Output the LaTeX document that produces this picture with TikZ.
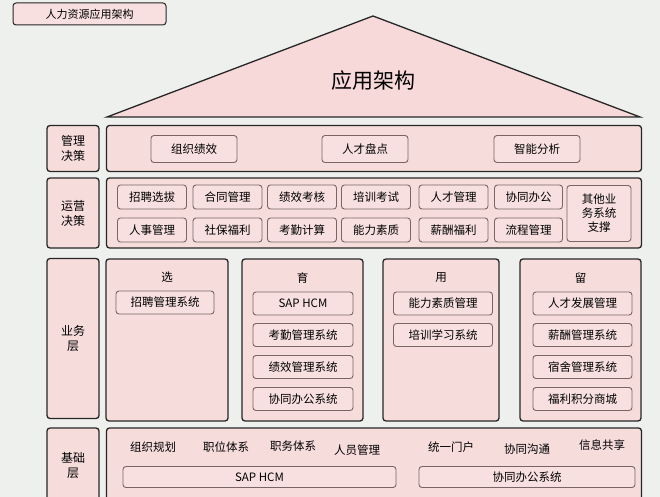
\documentclass[tikz,border=0pt]{standalone}
\usepackage{fontspec}
\newfontfamily\cjk{Noto Sans CJK SC}
\usepackage{xcolor}
\usepackage{tikz}
\usetikzlibrary{positioning}
\definecolor{bgc}{HTML}{EEF0EE}
\definecolor{pinkc}{HTML}{F7DCDC}
\definecolor{roofc}{HTML}{F8D9D9}
\definecolor{itmc}{HTML}{F8E0E0}
\definecolor{itmline}{HTML}{7A6464}
\tikzset{
  sz/.style 2 args={minimum width=#1pt, minimum height=#2pt},
  lay/.style={draw=black!85, line width=1.3pt, rounded corners=3pt, fill=pinkc, inner sep=0pt},
  lbl/.style={font=\cjk\fontsize{12}{15}\selectfont, align=center, inner sep=0pt},
  itm/.style={draw=itmline, line width=0.9pt, rounded corners=3pt, fill=itmc,
    font=\cjk\fontsize{11.5}{14}\selectfont, inner sep=0pt, align=center},
  txt/.style={font=\cjk\fontsize{11.5}{14}\selectfont, inner sep=0pt},
  ttlbox/.style={draw=black!85, line width=1pt, rounded corners=3pt, fill=itmc,
    font=\cjk\fontsize{11}{13}\selectfont, inner sep=0pt},
  roof/.style={draw=black!85, line width=1.3pt, fill=roofc}
}

\begin{document}
\begin{tikzpicture}[x=1pt, y=-1pt]
  \useasboundingbox (0,0) rectangle (660,497);
  \clip (0,0) rectangle (660,497);
  \fill[bgc] (0,0) rectangle (660,497);

  % title and roof
  \node[ttlbox, sz={153}{22}] (ttl) at (89.5,14) {人力资源应用架构};
  \coordinate (rl) at (107,117);
  \coordinate (rtop) at (373,16);
  \coordinate (rr) at (640,117);
  \draw[roof] (rl) -- (rtop) -- (rr) -- cycle;
  \node[font=\cjk\fontsize{21}{24}\selectfont] (rooft) at (373,81) {应用架构};

  % 管理决策
  \node[lay, sz={52}{46}] (lab1) at (73,148.5) {};
  \node[lbl] at (lab1) {管理\\决策};
  \node[lay, sz={535}{46}] (row1) at (374,148.5) {};
  \node[itm, sz={86}{27}] (a1) at (194,149) {组织绩效};
  \node[itm, sz={86}{27}] (a2) at (365,149) {人才盘点};
  \node[itm, sz={86}{27}] (a3) at (537,149) {智能分析};

  % 运营决策
  \node[lay, sz={52}{70}] (lab2) at (73,213) {};
  \node[lbl] at (lab2) {运营\\决策};
  \node[lay, sz={535}{70}] (row2) at (374,213) {};
  \node[itm, sz={69}{24}] (b1) at (152,197) {招聘选拔};
  \node[itm, sz={69}{24}] (b2) at (227.5,197) {合同管理};
  \node[itm, sz={69}{24}] (b3) at (302,197) {绩效考核};
  \node[itm, sz={69}{24}] (b4) at (376,197) {培训考试};
  \node[itm, sz={69}{24}] (b5) at (453.5,197) {人才管理};
  \node[itm, sz={68}{24}] (b6) at (528.5,197) {协同办公};
  \node[itm, sz={69}{24}] (b7) at (152,230) {人事管理};
  \node[itm, sz={69}{24}] (b8) at (227.5,230) {社保福利};
  \node[itm, sz={69}{24}] (b9) at (302,230) {考勤计算};
  \node[itm, sz={69}{24}] (b10) at (376,230) {能力素质};
  \node[itm, sz={69}{24}] (b11) at (453.5,230) {薪酬福利};
  \node[itm, sz={68}{24}] (b12) at (528.5,230) {流程管理};
  \node[itm, sz={64}{56}] (b13) at (599,213.5) {其他业\\务系统\\支撑};

  % 业务层
  \node[lay, sz={52}{160}] (lab3) at (73,338.5) {};
  \node[lbl] at (lab3) {业务\\层};
  \node[lay, sz={122}{162}] (c1) at (167,340) {};
  \node[lay, sz={121}{162}] (c2) at (302.5,340) {};
  \node[lay, sz={116}{162}] (c3) at (441,340) {};
  \node[lay, sz={121}{162}] (c4) at (580.5,340) {};
  \node[txt] (c1t) at (167,277) {选};
  \node[txt] (c2t) at (302.5,278) {育};
  \node[txt] (c3t) at (441,278) {用};
  \node[txt] (c4t) at (580.5,278) {留};
  \node[itm, sz={98}{23}] (d1) at (165,302.5) {招聘管理系统};
  \node[itm, sz={100}{23}] (e1) at (303,303.5) {SAP HCM};
  \node[itm, sz={100}{23}] (e2) at (303,335) {考勤管理系统};
  \node[itm, sz={100}{23}] (e3) at (303,367) {绩效管理系统};
  \node[itm, sz={100}{23}] (e4) at (303,399) {协同办公系统};
  \node[itm, sz={99}{23}] (f1) at (443,303.5) {能力素质管理};
  \node[itm, sz={99}{23}] (f2) at (443,335) {培训学习系统};
  \node[itm, sz={99}{23}] (g1) at (582.5,303.5) {人才发展管理};
  \node[itm, sz={99}{23}] (g2) at (582.5,335) {薪酬管理系统};
  \node[itm, sz={99}{23}] (g3) at (582.5,367) {宿舍管理系统};
  \node[itm, sz={99}{23}] (g4) at (582.5,399) {福利积分商城};

  % 基础层
  \node[lay, sz={52}{90}] (lab4) at (73,473) {};
  \node[lbl] at (73,465) {基础\\层};
  \node[lay, sz={535}{90}] (row4) at (374,473) {};
  \node[txt] (h1) at (153,447) {组织规划};
  \node[txt] (h2) at (226,447) {职位体系};
  \node[txt] (h3) at (293,446) {职务体系};
  \node[txt] (h4) at (357,450) {人员管理};
  \node[txt] (h5) at (451,447) {统一门户};
  \node[txt] (h6) at (527,449) {协同沟通};
  \node[txt] (h7) at (602,445) {信息共享};
  \node[itm, sz={273}{21}] (s1) at (259.5,477) {SAP HCM};
  \node[itm, sz={216}{21}] (s2) at (527,477) {协同办公系统};
\end{tikzpicture}
\end{document}
